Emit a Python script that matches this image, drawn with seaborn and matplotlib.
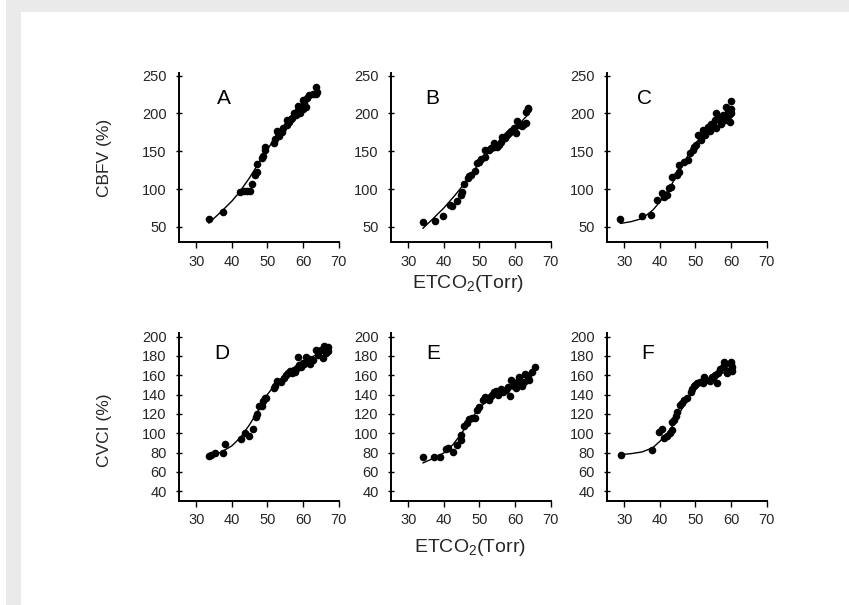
import numpy as np
import pandas as pd
import matplotlib
matplotlib.use("Agg")
import matplotlib.pyplot as plt
from matplotlib.patches import Rectangle
import seaborn as sns

# ---------------- data ----------------
a_x = [33.7, 37.4, 42.4, 43.4, 44.2, 45.0, 45.7, 46.5, 47.2, 47.1, 48.4, 48.8, 49.3, 49.4, 51.8,
       52.0, 52.7, 53.3, 53.0, 54.5, 55.4, 55.6, 56.2, 57.0, 57.5, 58.5, 58.7, 59.2, 59.9, 60.8,
       60.3, 61.8, 62.9, 63.6, 63.7, 64.0, 56.5, 54.0, 58.0, 60.0, 61.2]
a_y = [60, 70, 96, 97, 97, 97, 106, 118, 123, 133, 141, 143, 152, 155, 161,
       166, 177, 170, 174, 180, 184, 191, 188, 194, 200, 205, 210, 201, 218, 209,
       214, 224, 226, 226, 235, 228, 192, 176, 198, 206, 220]
a_cx = [33.5, 37, 40, 42, 45, 48, 50, 52, 55, 58, 61, 64]
a_cy = [55, 70, 84, 95, 115, 138, 152, 167, 185, 203, 218, 230]

b_x = [34.1, 37.4, 39.7, 41.6, 42.4, 43.6, 44.8, 45.0, 45.6, 46.7, 47.2, 47.7, 48.7, 49.3, 49.8,
       50.5, 51.5, 51.7, 52.6, 53.2, 54.0, 54.2, 55.4, 56.0, 56.4, 57.3, 57.8, 58.4, 59.7, 60.2,
       60.6, 62.0, 62.5, 63.1, 63.6, 63.7, 63.1, 55.0, 58.9, 61.2]
b_y = [56, 58, 65, 79, 77, 84, 92, 96, 106, 115, 117, 119, 124, 134, 136,
       140, 142, 151, 151, 154, 155, 161, 158, 162, 169, 167, 171, 174, 181, 174,
       190, 183, 186, 202, 206, 207, 187, 156, 177, 184]
b_cx = [34.1, 37, 40, 43, 45.6, 48, 50, 53, 56, 60, 64]
b_cy = [48, 61, 75, 91, 106, 121, 135, 150, 163, 180, 200]

c_x = [28.9, 35.0, 37.4, 39.3, 40.7, 41.2, 41.9, 42.7, 43.2, 43.5, 44.9, 45.4, 45.4, 46.8, 47.8,
       49.2, 49.7, 50.2, 50.7, 51.6, 52.1, 52.6, 53.5, 54.0, 54.4, 54.9, 55.4, 55.9, 55.9, 56.8,
       57.2, 57.7, 58.2, 58.6, 59.1, 59.5, 60.1, 60.1, 60.1, 59.6, 53.0, 56.3, 48.5]
c_y = [61, 64, 65.5, 86, 95, 89, 92, 101, 103, 115.5, 118, 123, 132, 136, 139,
       152, 155.5, 158, 171.5, 165, 178, 172, 182, 177, 186, 184, 191, 180, 200, 195,
       186, 198, 191, 209, 202, 198, 216, 200, 206, 189, 175, 192, 147]
c_cx = [28.9, 32, 35, 38, 40, 43, 45, 48, 50, 53, 55, 58, 60]
c_cy = [54.5, 57, 61, 72, 83, 103, 121, 145, 160.5, 176, 184.7, 197, 204.6]

d_x = [33.6, 34.2, 35.2, 37.5, 38.1, 42.5, 43.6, 44.9, 46.0, 46.8, 47.2, 47.7, 48.4, 48.9, 49.3,
       49.6, 51.9, 52.1, 52.7, 53.8, 54.6, 55.3, 55.8, 56.3, 57.0, 57.4, 57.7, 58.5, 58.9, 59.4,
       59.9, 60.4, 61.0, 61.6, 61.9, 62.4, 62.9, 63.7, 65.1, 65.6, 65.9, 66.6, 67.0, 67.0, 66.8,
       64.3, 60.8, 58.2]
d_y = [77, 78, 80, 80, 89, 94, 100, 97, 104, 117, 120, 128.5, 128.5, 133, 136,
       137, 147, 149, 154, 153, 157, 160, 162, 164, 162, 165, 163, 179, 171, 169,
       173, 172, 175, 177, 172, 176, 176, 186, 186, 178, 190, 183, 189, 185, 187,
       181, 179, 167]
d_cx = [33.6, 37, 40, 42.5, 45, 47.5, 50, 52.5, 55, 57.5, 60, 62.5, 65, 67]
d_cy = [76, 80.5, 87, 96, 109, 124, 140, 152, 160.5, 167.5, 174, 179, 183, 185]

e_x = [34.1, 37.3, 39.0, 40.7, 41.3, 42.6, 43.7, 44.8, 44.8, 45.8, 46.5, 47.2, 47.9, 48.8, 49.3,
       49.8, 51.0, 51.6, 52.6, 53.1, 54.2, 54.7, 55.1, 56.0, 56.5, 57.5, 58.0, 58.7, 58.9, 59.8,
       60.7, 61.2, 61.1, 62.0, 62.5, 62.8, 63.7, 64.0, 64.8, 65.5, 60.2, 53.5]
e_y = [75.5, 75.5, 75.5, 84, 84.5, 80.7, 88, 93.4, 98.6, 108, 110.6, 115, 116, 116, 124.4,
       127, 134.7, 137.5, 134.7, 138, 143, 144, 140, 146, 143, 145, 148, 139, 155.3, 149,
       153, 151, 158.7, 149, 153, 161, 158, 155, 163, 169, 147, 140]
e_cx = [34.1, 37, 40, 42.5, 45, 47.5, 50, 52.5, 55, 57.5, 60, 62.5, 65]
e_cy = [69.3, 74, 79.7, 88, 100, 114, 126, 135, 142, 147.5, 152, 158, 165.6]

f_x = [29.2, 37.8, 39.7, 40.6, 41.2, 41.9, 42.8, 43.3, 43.4, 44.0, 44.6, 44.9, 45.6, 46.1, 46.9,
       47.7, 48.7, 49.1, 49.5, 50.0, 50.5, 51.4, 52.1, 52.4, 53.1, 54.0, 55.0, 55.5, 56.4, 56.2,
       57.9, 58.3, 58.1, 58.8, 59.2, 60.0, 60.3, 60.3, 59.9, 57.0, 54.6]
f_y = [78, 83, 101.3, 104, 95, 97, 100.6, 103, 112, 114, 117.4, 122, 129.5, 131, 134.7,
       136, 143, 145.5, 148.4, 150, 151.8, 153.5, 152, 158, 155, 154, 157, 160, 162, 151.9,
       169, 172, 174, 162, 164, 172, 169, 164, 174, 166, 158]
f_cx = [29.2, 32, 35, 38, 40, 42, 43, 45, 47.5, 50, 52.5, 55, 57.5, 60]
f_cy = [78, 79, 80.7, 85, 91.7, 99, 104, 117, 134, 148, 155, 158.7, 162, 165.6]

letters = ["A", "B", "C", "D", "E", "F"]
xticks = [30, 40, 50, 60, 70]
yticks_top = [50, 100, 150, 200, 250]
yticks_bot = [40, 60, 80, 100, 120, 140, 160, 180, 200]
ylabel_top = "CBFV (%)"
ylabel_bot = "CVCI (%)"
xlabel = "ETCO$_2$(Torr)"

panels = [
    (a_x, a_y, a_cx, a_cy), (b_x, b_y, b_cx, b_cy), (c_x, c_y, c_cx, c_cy),
    (d_x, d_y, d_cx, d_cy), (e_x, e_y, e_cx, e_cy), (f_x, f_y, f_cx, f_cy),
]
letter_pos = [(37.7, 220), (36.7, 219), (35.8, 220), (37.3, 183), (36.9, 183), (36.5, 183)]

# ---------------- figure ----------------
sns.set_theme(style="white")
plt.rcParams["font.family"] = ["Liberation Sans", "DejaVu Sans"]
plt.rcParams["mathtext.fontset"] = "custom"
plt.rcParams["mathtext.rm"] = "Liberation Sans"
plt.rcParams["mathtext.it"] = "Liberation Sans"

W, H = 849, 605
fig = plt.figure(figsize=(W / 100, H / 100), dpi=100, facecolor="white")

gray = "#e9eae9"
fig.patches.append(Rectangle((6 / W, 0), 15 / W, 1, transform=fig.transFigure,
                             facecolor=gray, edgecolor="none", zorder=0))
fig.patches.append(Rectangle((6 / W, 1 - 12 / H), 1, 12 / H, transform=fig.transFigure,
                             facecolor=gray, edgecolor="none", zorder=0))

col_left = [178.5, 390.5, 606.5]
axw = 160
rows = [(72.5, 242), (332.7, 501)]

for i, (px, py, cx, cy) in enumerate(panels):
    r, c = divmod(i, 3)
    top, bot = rows[r]
    ax = fig.add_axes([col_left[c] / W, 1 - bot / H, axw / W, (bot - top) / H])
    ax.set_facecolor("none")
    df = pd.DataFrame({"x": px, "y": py})
    cdf = pd.DataFrame({"x": cx, "y": cy})
    sns.lineplot(data=cdf, x="x", y="y", ax=ax, color="black", lw=1.0,
                 estimator=None, sort=False, zorder=2)
    sns.scatterplot(data=df, x="x", y="y", ax=ax, color="black", s=30,
                    edgecolor="black", linewidth=0, zorder=3)
    ax.set_xlim(25, 70)
    if r == 0:
        ax.set_ylim(30, 254)
        ax.set_yticks(yticks_top)
    else:
        ax.set_ylim(30, 204)
        ax.set_yticks(yticks_bot)
    ax.set_xticks(xticks)
    ax.set_xlabel("")
    ax.set_ylabel("")
    for s in ["top", "right"]:
        ax.spines[s].set_visible(False)
    for s in ["left", "bottom"]:
        ax.spines[s].set_color("black")
        ax.spines[s].set_linewidth(1.4)
    ax.tick_params(axis="x", direction="out", length=4, width=1, color="black",
                   labelsize=10.5, pad=5, bottom=True)
    ax.tick_params(axis="y", direction="inout", length=5, width=1, color="black",
                   labelsize=10.5, pad=6, left=True)
    ax.text(letter_pos[i][0], letter_pos[i][1], letters[i], fontsize=15,
            ha="center", va="center", color="black")

fig.text(105 / W, 1 - 158 / H, ylabel_top, rotation=90, ha="center", va="center", fontsize=12.5)
fig.text(105 / W, 1 - 430 / H, ylabel_bot, rotation=90, ha="center", va="center", fontsize=12.5)
fig.text(468 / W, 1 - 284 / H, xlabel, ha="center", va="center", fontsize=14)
fig.text(470 / W, 1 - 548 / H, xlabel, ha="center", va="center", fontsize=14)

fig.savefig("out.png", dpi=100, facecolor="white")
